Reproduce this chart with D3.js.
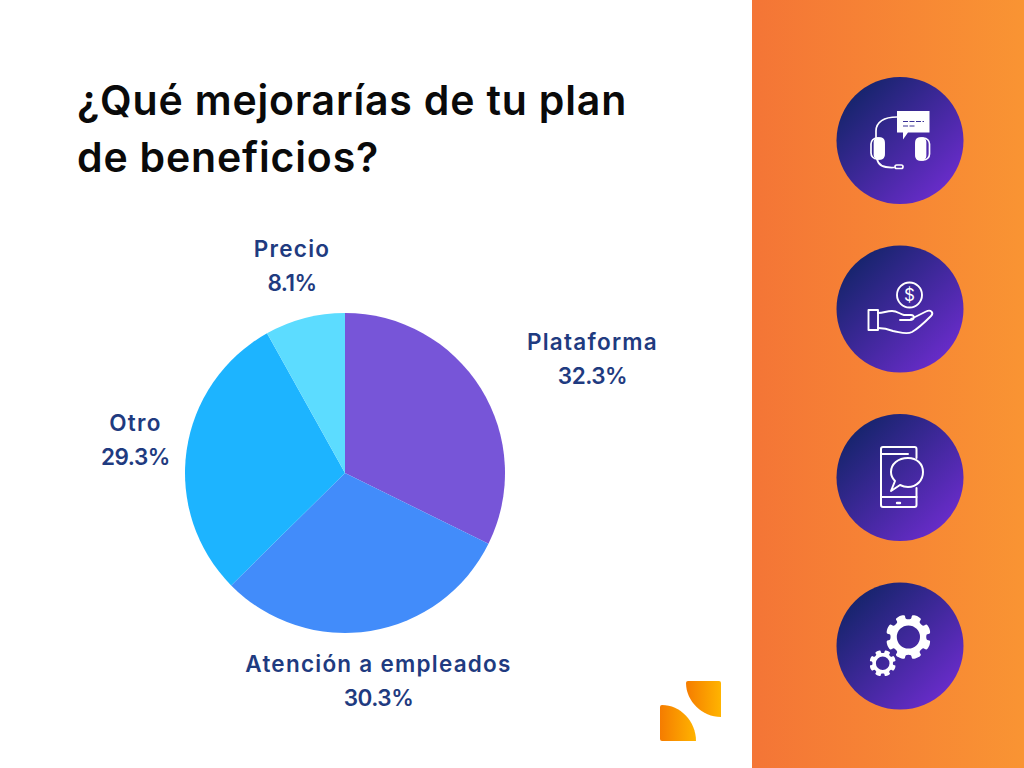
<!DOCTYPE html>
<html><head><meta charset="utf-8">
<script src="https://cdn.jsdelivr.net/npm/d3@7/dist/d3.min.js"></script>
<style>html,body{margin:0;padding:0;background:#fff;overflow:hidden}svg{display:block}text{font-family:Inter,Lato,sans-serif}</style>
</head><body><svg id="c" width="1024" height="768"></svg>
<script>
const categories=["Plataforma","Atención a empleados","Otro","Precio"];
const values=[32.3,30.3,29.3,8.1];
const labels=["32.3%","30.3%","29.3%","8.1%"];
const colors=["#7755D8","#428CFA","#1DB4FF","#5CDCFF"];
const titleLines=["¿Qué mejorarías de tu plan","de beneficios?"];
const labelPos=[[592.5,342],[378.5,664],[135.5,423],[292,249]];
const circleY=[140.5,309,477.5,646];

const svg=d3.select("#c");
const defs=svg.append("defs");
function lg(id,x1,y1,x2,y2,a,b){const g=defs.append("linearGradient").attr("id",id).attr("x1",x1).attr("y1",y1).attr("x2",x2).attr("y2",y2);
 g.append("stop").attr("offset",0).attr("stop-color",a);g.append("stop").attr("offset",1).attr("stop-color",b);}
lg("panel",0,0,1,0,"#F47536","#F99433");
lg("disc",0.12,0.12,0.88,0.88,"#15246B","#6A2CCB");
lg("logo",0,0,1,0,"#F57C00","#FFB400");

svg.append("rect").attr("x",752).attr("y",0).attr("width",272).attr("height",768).attr("fill","url(#panel)");

svg.append("g").selectAll("text").data(titleLines).join("text")
 .attr("x",77).attr("y",(d,i)=>115+i*57).attr("font-size",41).attr("font-weight",600).attr("letter-spacing",0.82).attr("fill","#0a0a0a").text(d=>d);

const pie=d3.pie().sort(null).value(d=>d)(values);
const arc=d3.arc().innerRadius(0).outerRadius(160);
svg.append("g").attr("transform","translate(345,473)").selectAll("path").data(pie).join("path")
 .attr("d",arc).attr("fill",(d,i)=>colors[i]);

const lab=svg.append("g").attr("text-anchor","middle").attr("fill","#1F3B80").attr("font-size",22.5).attr("font-weight",600);
categories.forEach((c,i)=>{
 lab.append("text").attr("x",labelPos[i][0]).attr("y",labelPos[i][1]+8).attr("letter-spacing",1.25).text(c);
 lab.append("text").attr("x",labelPos[i][0]).attr("y",labelPos[i][1]+42).attr("letter-spacing",-0.5).text(labels[i]);
});

svg.append("g").selectAll("circle").data(circleY).join("circle").attr("cx",900).attr("cy",d=>d).attr("r",63.5).attr("fill","url(#disc)");

// logo
svg.append("path").attr("fill","url(#logo)").attr("d","M688 681H719Q721 681 721 683V717C702 717 686 701 686 683Q686 681 688 681Z");
svg.append("path").attr("fill","url(#logo)").attr("d","M662 705C680 705 696 721 696 741H662Q660 741 660 739V707Q660 705 662 705Z");

// icon 1: headset
const i1=svg.append("g").attr("fill","none").attr("stroke","#fff").attr("stroke-width",1.7).attr("stroke-linecap","round").attr("stroke-linejoin","round");
i1.append("path").attr("fill","#fff").attr("stroke","none").attr("d","M897 111H929.5V132.5H908L903 139.5V132.5H897Z");
i1.append("path").attr("stroke","#3A3296").attr("stroke-width",1).attr("stroke-linecap","butt").attr("stroke-dasharray","5 1.5").attr("d","M903 121.5H924M903 126H916");
i1.append("path").attr("d","M876 138V131C876 122 884 117 897 117");
i1.append("rect").attr("x",871).attr("y",138).attr("width",13).attr("height",21).attr("rx",6);
i1.append("rect").attr("x",874.5).attr("y",138).attr("width",9.5).attr("height",21).attr("rx",4).attr("fill","#fff");
i1.append("rect").attr("x",916).attr("y",138).attr("width",13.5).attr("height",22).attr("rx",6);
i1.append("rect").attr("x",916).attr("y",138).attr("width",9.5).attr("height",22).attr("rx",4).attr("fill","#fff");
i1.append("path").attr("d","M877 159C878 165 884 168 894 167.5");
i1.append("rect").attr("x",895).attr("y",165).attr("width",8).attr("height",3.5).attr("rx",1.7);

// icon 2: hand and coin
const i2=svg.append("g").attr("fill","none").attr("stroke","#fff").attr("stroke-width",1.9).attr("stroke-linecap","round").attr("stroke-linejoin","round");
i2.append("circle").attr("cx",909.5).attr("cy",295).attr("r",12.5);
i2.append("text").attr("x",909.5).attr("y",301).attr("text-anchor","middle").attr("font-size",17).attr("fill","#fff").attr("stroke","none").text("$");
i2.append("rect").attr("x",868.5).attr("y",310).attr("width",9.5).attr("height",20);
i2.append("path").attr("d","M878 313C884 313 886 311 892 311C897 311 900 314 904 315H911C915 315 915 320 910 320H900M911 319L926 311.5C931 309 934 313 931 316C925 322 919 328 912 332C906 335 900 332 893 331C888 329 884 328 878 328");

// icon 3: phone with bubble
const i3=svg.append("g").attr("fill","none").attr("stroke","#fff").attr("stroke-width",2).attr("stroke-linecap","round").attr("stroke-linejoin","round");
i3.append("path").attr("d","M916.5 458V449Q916.5 447 914.5 447H883Q881 447 881 449V505Q881 507 883 507H914.5Q916.5 507 916.5 505V488");
i3.append("path").attr("d","M881 454H908M881 497H916.5");
i3.append("path").attr("stroke-width",2.4).attr("d","M897 503H900");
i3.append("path").attr("d","M908 458C917 458 923 464 923 472C923 480 917 487 908 487C905 487 902 486 900 485L891 491L895 481C892 478 891 475 891 472C891 464 898 458 908 458Z");

// icon 4: gears
function gear(cx,cy,ro,ri,hole,n){
 const pts=[];
 for(let k=0;k<n;k++){
  const a=k*2*Math.PI/n-Math.PI/2+Math.PI/n, w=Math.PI/n;
  [[-w*.66,ri],[-w*.55,ro*.97],[-w*.2,ro],[w*.2,ro],[w*.55,ro*.97],[w*.66,ri]].forEach(p=>pts.push([cx+p[1]*Math.cos(a+p[0]),cy+p[1]*Math.sin(a+p[0])]));
 }
 const outer=d3.line().curve(d3.curveCatmullRomClosed.alpha(.5))(pts);
 const inner=`M${cx-hole},${cy}a${hole},${hole} 0 1,0 ${2*hole},0a${hole},${hole} 0 1,0 ${-2*hole},0Z`;
 svg.append("path").attr("fill","#fff").attr("fill-rule","evenodd").attr("d",outer+inner);
}
gear(908.4,637,22.5,18.5,11.6,8);
gear(882.7,663.3,13.2,10.6,6.8,8);
</script></body></html>
